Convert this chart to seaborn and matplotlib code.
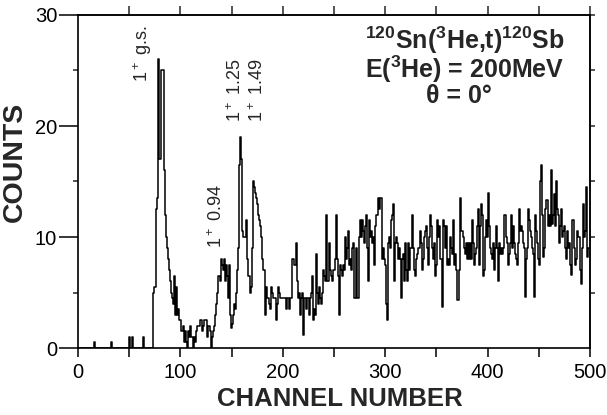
import matplotlib
matplotlib.use("Agg")
import matplotlib.pyplot as plt
import seaborn as sns
import numpy as np
import pandas as pd

# counts per channel in blocks of 100 channels
counts_000_099 = [
    0, 0, 0, 0, 0, 0, 0, 0, 0, 0,
    0, 0, 0, 0, 0, 0, 0.5, 0, 0, 0,
    0, 0, 0, 0, 0, 0, 0, 0, 0, 0,
    0, 0, 0, 0.5, 0, 0, 0, 0, 0, 0,
    0, 0, 0, 0, 0, 0, 0, 0, 0, 0,
    1, 0, 0, 1, 0, 0, 0, 0, 0, 0,
    0, 0, 0, 0, 1, 0, 0, 0, 0, 0,
    0, 0, 0, 0, 5, 5.5, 5.5, 12.5, 13.5, 26,
    17, 17, 25, 25, 16, 12, 10, 9, 8, 7,
    6, 5, 4.5, 4, 6.5, 3, 5.5, 3, 3.5, 2.5,
]
counts_100_199 = [
    2.5, 1.5, 1.5, 2, 0.5, 1.5, 0.5, 0, 1.5, 1,
    2, 1, 1, 0, 1, 0.5, 1.5, 2, 2, 2,
    2.5, 2.5, 1.5, 2, 2.5, 2.5, 1, 2, 2, 1.5,
    0, 1, 1.5, 2, 3, 4, 5, 6.5, 6.5, 6,
    8, 7.5, 7, 8, 6, 7.5, 6.5, 4.5, 7.5, 3,
    1.8, 2.2, 3, 4, 3.5, 5, 7, 9, 16.5, 19,
    17, 10.5, 10, 10, 10, 11.5, 8, 6.5, 5, 5.5,
    9, 15, 14.5, 14, 13.5, 13, 12, 11.5, 11, 10,
    8, 7, 7, 3, 5.5, 4.5, 4.5, 4, 3.5, 5.5,
    5, 4.5, 4.5, 4.5, 2.5, 4, 5.5, 5, 4.5, 4.5,
]
counts_200_299 = [
    4.5, 4.5, 4.5, 4.5, 3.5, 4.5, 4.5, 3.5, 4.5, 8,
    8, 7.5, 7.5, 9.5, 6, 4.5, 5, 3, 4.5, 5,
    1.2, 4.5, 4.5, 3.5, 4.5, 4.5, 3, 4.5, 5, 6.5,
    2.5, 3.5, 3, 8.5, 5, 4, 5.5, 4.5, 4, 5,
    7, 6.5, 6, 12, 6, 6, 9.5, 7, 6.5, 6,
    7, 8, 12, 8, 6.5, 3, 7.5, 7, 6.5, 7.5,
    7, 10, 8, 9, 10.5, 7.5, 8, 7, 9, 9.5,
    4.5, 4.5, 9, 4.5, 4.5, 10, 11.5, 10, 11.5, 10.5,
    9.5, 11, 12, 9, 6, 11.5, 10, 10.5, 9.5, 10,
    7.5, 11, 12, 13.5, 12.5, 13.5, 13.5, 8, 9, 8,
]
counts_300_399 = [
    7.5, 4, 2.5, 9.5, 10, 9, 11.5, 12, 13, 6,
    9.5, 10, 9.5, 8, 9, 8, 4.5, 8, 8.5, 6,
    9.5, 7, 6, 9.5, 7, 9, 9, 12, 9, 7,
    6.5, 8, 8.5, 9, 10.5, 9.5, 7, 8, 10, 10.5,
    11, 9, 7.5, 10, 12, 11, 9, 8, 9.5, 6.5,
    7.5, 11.5, 10, 11, 8, 8, 3.7, 11.5, 11, 9,
    11, 7.5, 8, 7.5, 10, 9, 8.5, 11.5, 7.5, 8.5,
    7, 4.3, 4.3, 7, 13.5, 10.5, 10, 9, 8.5, 9.5,
    8, 9.5, 8, 9.5, 8, 11.5, 9.5, 7.5, 8.5, 9,
    11, 12.5, 7.5, 11, 13, 12, 6.5, 7, 10, 11.5,
]
counts_400_499 = [
    10, 14, 11, 9, 8.5, 8, 9.5, 7, 9, 11,
    9, 6, 9.5, 8.5, 9, 8.5, 9, 12, 10, 9.5,
    7.5, 8.5, 9.5, 12, 9, 11, 9.5, 8.5, 8, 7.5,
    9.5, 12.5, 10.5, 11, 10.5, 9.5, 9, 4.6, 8, 9,
    12.5, 11.5, 10.5, 10, 9, 8.5, 4.6, 12, 10.5, 9.5,
    8, 7.5, 15, 16.5, 12, 8.2, 9, 12.5, 13.3, 11,
    12, 11, 16, 11.2, 12, 13.9, 11, 15, 12.5, 12,
    9.5, 11, 12.5, 10, 10.5, 11, 9, 8, 10.5, 9,
    9.5, 7.5, 6.6, 11.5, 11.5, 9, 7.5, 8, 10.5, 10,
    10, 7, 5.8, 9, 13, 10, 10.5, 14.5, 8.2, 9,
]

counts = counts_000_099 + counts_100_199 + counts_200_299 + counts_300_399 + counts_400_499
df = pd.DataFrame({"channel": np.arange(len(counts)), "counts": counts})

peak_labels = ["1$^+$ g.s.", "1$^+$ 0.94", "1$^+$ 1.25", "1$^+$ 1.49"]

sns.set_style("ticks")
plt.rcParams["font.family"] = ["Liberation Sans", "DejaVu Sans"]
plt.rcParams["mathtext.fontset"] = "custom"
plt.rcParams["mathtext.rm"] = "Liberation Sans"
plt.rcParams["mathtext.it"] = "Liberation Sans:italic"
plt.rcParams["mathtext.bf"] = "Liberation Sans:bold"

fig = plt.figure(figsize=(6.07, 4.15), dpi=100)
ax = fig.add_axes([78 / 607, 1 - 348 / 415, 512 / 607, 333 / 415])

sns.lineplot(data=df, x="channel", y="counts", drawstyle="steps-mid",
             color="black", lw=1.1, estimator=None, ax=ax)

ax.set_xlim(0, 500)
ax.set_ylim(0, 30)
ax.set_xticks(range(0, 501, 100))
ax.set_xticks(range(50, 500, 100), minor=True)
ax.set_yticks(range(0, 31, 10))
ax.set_yticks(range(5, 30, 10), minor=True)

for s in ax.spines.values():
    s.set_visible(True)
    s.set_linewidth(1.2)
    s.set_color("black")

ax.tick_params(axis="x", which="both", direction="out", length=6.5, width=1.1,
               labelsize=14.5, pad=4, colors="black")
ax.tick_params(axis="y", which="major", direction="out", length=14, width=1.1,
               labelsize=14.5, pad=1, colors="black")
ax.tick_params(axis="y", which="minor", direction="out", length=3.6, width=1.1)

top = ax.secondary_xaxis("top")
top.set_xticks(range(50, 501, 50))
top.tick_params(direction="out", length=6.5, width=1.1, labeltop=False)
top.spines["top"].set_linewidth(1.2)

right = ax.secondary_yaxis("right")
right.set_yticks(range(5, 31, 5))
right.tick_params(direction="out", length=3.6, width=1.1, labelright=False)
right.spines["right"].set_linewidth(1.2)

ax.set_xlabel("CHANNEL NUMBER", fontsize=18.5, fontweight="bold")
ax.set_ylabel("COUNTS", fontsize=20.5, fontweight="bold")
ax.xaxis.set_label_coords(0.512, -0.118)
ax.yaxis.set_label_coords(-0.097, 0.56)

# level labels
ax.text(63.3, 24.0, peak_labels[0], rotation=90, ha="center", va="bottom", fontsize=13)
ax.text(135.8, 9.0, peak_labels[1], rotation=90, ha="center", va="bottom", fontsize=13)
ax.text(153.8, 20.4, peak_labels[2], rotation=90, ha="center", va="bottom", fontsize=13)
ax.text(175.3, 20.4, peak_labels[3], rotation=90, ha="center", va="bottom", fontsize=13)

# reaction info
ax.text(0.756, 0.925, r"$\mathbf{^{120}}$Sn($\mathbf{^{3}}$He,t)$\mathbf{^{120}}$Sb",
        transform=ax.transAxes, ha="center", va="center", fontsize=18, fontweight="bold")
ax.text(0.756, 0.838, r"E($\mathbf{^{3}}$He) = 200MeV",
        transform=ax.transAxes, ha="center", va="center", fontsize=18, fontweight="bold")
ax.text(0.744, 0.757, "θ = 0°",
        transform=ax.transAxes, ha="center", va="center", fontsize=18, fontweight="bold")

fig.savefig("out.png", dpi=100)
plt.close(fig)
